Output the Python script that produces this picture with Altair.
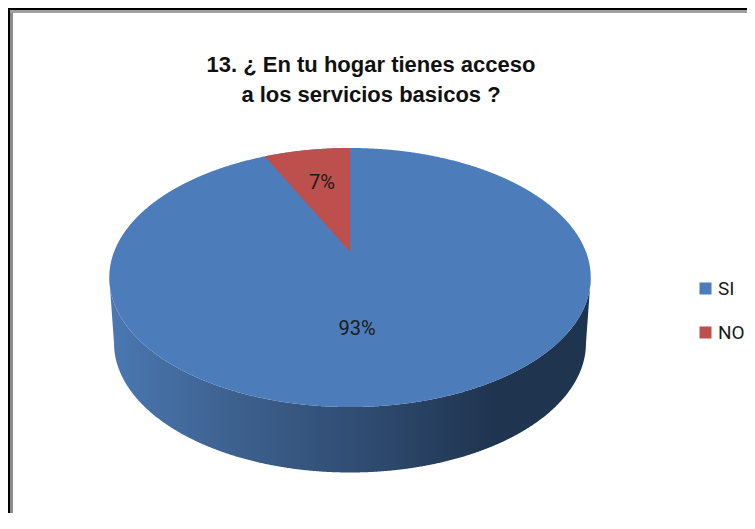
import numpy as np
import pandas as pd
import altair as alt

TITLE = ["13. ¿ En tu hogar tienes acceso", "a los servicios basicos ?"]
CATEGORIES = ["SI", "NO"]
VALUES = [93, 7]
LABELS = ["93%", "7%"]
COLORS = ["#4c7dba", "#bd504d"]

W, H = 739, 505
APEX_X, APEX_Y = 342, 244          # pie hub inside the chart, in pixels
A, B, K = 236.0, 124.5, 0.197      # perspective of the pie's top face
DEPTH_RX, DEPTH_CY, DEPTH_RY = 236.0, -91.0, 129.5  # bottom rim of the wall

RX = A / np.sqrt(1 - K ** 2)
RY = B / (1 - K ** 2)
CY = -B * K / (1 - K ** 2)


def project(theta):
    u, v = np.sin(theta), np.cos(theta)
    d = 1 + K * v
    return A * u / d, B * v / d


x_scale = alt.Scale(domain=[-APEX_X, W - APEX_X], range=[0, W], nice=False, zero=False)
y_scale = alt.Scale(domain=[APEX_Y - H, APEX_Y], range=[H, 0], nice=False, zero=False)
X = alt.X("x:Q", scale=x_scale, axis=None)
Y = alt.Y("y:Q", scale=y_scale, axis=None)
color = alt.Color(
    "cat:N",
    scale=alt.Scale(domain=CATEGORIES, range=COLORS),
    legend=alt.Legend(
        title=None, orient="none", legendX=688, legendY=271, padding=0, symbolType="square",
        symbolSize=144, symbolStrokeWidth=0, symbolOpacity=1, labelFont="Roboto",
        labelFontSize=19, labelColor="#1a1a1a", rowPadding=24, labelOffset=3,
    ),
)

# top face
t = np.linspace(-np.pi / 2, np.pi / 2, 721)
ex = RX * np.sin(t)
half = RY * np.cos(t)
face = pd.DataFrame({"x": ex, "y": CY + half, "y2": CY - half, "cat": CATEGORIES[0]})

# slice NO, its angle follows from the values
angle = 2 * np.pi * VALUES[1] / sum(VALUES)
th = np.linspace(-angle, 0, 121)
wx, wy = project(th)
wedge = pd.DataFrame({"x": wx, "y": wy, "y2": wy[0] * (wx / wx[0]), "cat": CATEGORIES[1]})

# side wall
inner = np.where(np.abs(ex) <= DEPTH_RX,
                 DEPTH_CY - DEPTH_RY * np.sqrt(np.clip(1 - (ex / DEPTH_RX) ** 2, 0, 1)),
                 CY + (DEPTH_CY - CY) * (RX - np.abs(ex)) / (RX - DEPTH_RX))
wall = pd.DataFrame({"x": ex, "y": inner, "y2": CY - half})

wall_fill = alt.Gradient(
    gradient="linear", x1=0, x2=1, y1=0, y2=0,
    stops=[
        alt.GradientStop(color="#4a78b2", offset=0),
        alt.GradientStop(color="#3c5f8c", offset=0.28),
        alt.GradientStop(color="#2e4a6f", offset=0.55),
        alt.GradientStop(color="#1f344f", offset=0.8),
        alt.GradientStop(color="#1f344f", offset=1),
    ],
)

wall_layer = alt.Chart(wall).mark_area(fill=wall_fill).encode(x=X, y=Y, y2="y2:Q")
face_layer = alt.Chart(face).mark_area().encode(x=X, y=Y, y2="y2:Q", color=color)
wedge_layer = alt.Chart(wedge).mark_area().encode(x=X, y=Y, y2="y2:Q", color=color)

label_df = pd.DataFrame({"x": [7, -28], "y": [-77, 69], "text": LABELS})
labels = alt.Chart(label_df).mark_text(
    font="Roboto", fontSize=20, color="#1a1a1a", align="center", baseline="middle"
).encode(x=X, y=Y, text="text:N")


def vrule(x, width, col):
    return alt.Chart(pd.DataFrame({"a": [0]})).mark_rule(color=col, strokeWidth=width).encode(
        x=alt.value(x), y=alt.value(0), y2=alt.value(H))


def hrule(y, width, col):
    return alt.Chart(pd.DataFrame({"a": [0]})).mark_rule(color=col, strokeWidth=width).encode(
        y=alt.value(y), x=alt.value(0), x2=alt.value(W))


frame = [
    vrule(3.5, 3, "#8c8c8c"), hrule(3.5, 3, "#a0a0a0"),
    vrule(1, 2, "#000000"), hrule(1, 2, "#000000"),
]

chart = alt.layer(wall_layer, face_layer, wedge_layer, labels, *frame).resolve_scale(
    color="shared"
).properties(
    width=W, height=H, padding=0, autosize=alt.AutoSizeParams(type="none"),
    background="#ffffff",
    title=alt.TitleParams(
        text=TITLE, font="Liberation Sans", fontSize=22, fontWeight="bold", color="#111111",
        anchor="middle", align="center", dx=-6.5, dy=121, lineHeight=30, baseline="alphabetic",
    ),
).configure_view(stroke=None)

chart.save("out.html", embed_options={"renderer": "svg", "actions": False})
